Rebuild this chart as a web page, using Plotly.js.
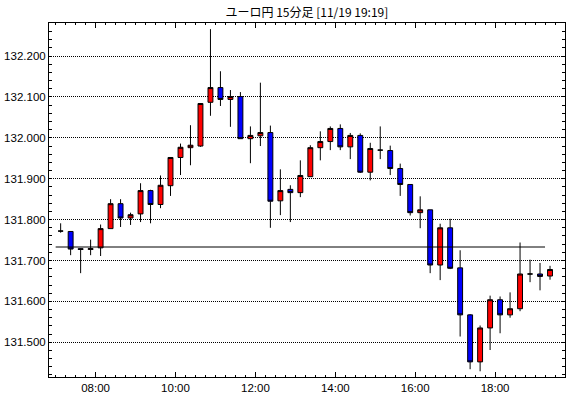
<!DOCTYPE html>
<html>
<head>
<meta charset="utf-8">
<script src="https://cdn.plot.ly/plotly-3.0.1.min.js"></script>
<style>html,body{margin:0;padding:0;background:#fff;}#chart{width:570px;height:398px;}</style>
</head>
<body>
<div id="chart"></div>
<script>
const day = '2024-11-19';
const times = ['07:00','07:15','07:30','07:45','08:00','08:15','08:30','08:45','09:00','09:15',
 '09:30','09:45','10:00','10:15','10:30','10:45','11:00','11:15','11:30','11:45',
 '12:00','12:15','12:30','12:45','13:00','13:15','13:30','13:45','14:00','14:15',
 '14:30','14:45','15:00','15:15','15:30','15:45','16:00','16:15','16:30','16:45',
 '17:00','17:15','17:30','17:45','18:00','18:15','18:30','18:45','19:00','19:15'];
const openP = [131.772,131.771,131.729,131.727,131.731,131.778,131.839,131.804,131.814,131.871,
 131.837,131.883,131.952,131.976,131.980,132.087,132.123,132.094,132.101,131.998,
 132.005,132.013,131.846,131.874,131.866,131.905,131.976,131.991,132.023,131.978,
 132.006,131.916,131.970,131.969,131.925,131.886,131.817,131.824,131.689,131.780,
 131.682,131.567,131.452,131.535,131.604,131.567,131.582,131.667,131.667,131.662];
const highP = [131.791,131.771,131.730,131.751,131.788,131.850,131.850,131.817,131.889,131.873,
 131.908,131.952,131.986,132.031,132.085,132.266,132.163,132.117,132.112,132.028,
 132.135,132.030,131.923,131.884,131.945,131.982,132.016,132.028,132.033,132.012,
 132.011,131.988,132.028,131.981,131.937,131.886,131.857,131.824,131.790,131.802,
 131.725,131.569,131.541,131.614,131.612,131.622,131.744,131.702,131.694,131.687];
const lowP = [131.768,131.713,131.669,131.713,131.711,131.778,131.782,131.787,131.794,131.791,
 131.828,131.858,131.909,131.933,131.978,132.054,132.078,132.027,131.998,131.938,
 131.980,131.780,131.811,131.794,131.855,131.905,131.945,131.970,131.970,131.948,
 131.914,131.896,131.948,131.909,131.858,131.810,131.779,131.669,131.652,131.679,
 131.514,131.434,131.429,131.481,131.522,131.560,131.576,131.647,131.627,131.653];
const closeP = [131.772,131.728,131.727,131.729,131.778,131.839,131.804,131.812,131.871,131.837,
 131.884,131.952,131.977,131.982,132.084,132.123,132.094,132.101,131.998,132.006,
 132.013,131.845,131.871,131.866,131.908,131.976,131.991,132.023,131.978,132.006,
 131.916,131.974,131.970,131.925,131.886,131.817,131.824,131.689,131.780,131.681,
 131.567,131.452,131.535,131.604,131.567,131.582,131.667,131.667,131.661,131.678];
const refLevel = 131.733;
const refStart = '07:00';
const refEnd = '19:15';
const xTickLabels = ['08:00','10:00','12:00','14:00','16:00','18:00'];
const titleText = 'ユーロ円 15分足 [11/19 19:19]';

const xs = times.map(t => day + ' ' + t);

const trace = {
  type: 'candlestick',
  x: xs,
  open: openP, high: highP, low: lowP, close: closeP,
  xperiod: 900000,
  xperiodalignment: 'middle',
  increasing: {line: {color: '#000000', width: 1}, fillcolor: '#FF0000'},
  decreasing: {line: {color: '#000000', width: 1}, fillcolor: '#0000FF'},
  whiskerwidth: 0,
  hoverinfo: 'skip',
  showlegend: false
};

const tickFont = {family: 'Liberation Sans, Arial, sans-serif', size: 11.5, color: '#000'};

const layout = {
  width: 570, height: 398,
  margin: {l: 49, r: 5, t: 23, b: 21},
  paper_bgcolor: '#ffffff', plot_bgcolor: '#ffffff',
  showlegend: false,
  title: {text: titleText, font: {family: 'Noto Sans CJK JP, sans-serif', size: 12, color: '#000'},
          x: 0.5385, xanchor: 'center', xref: 'container', y: 0.968, yanchor: 'middle', yref: 'container'},
  xaxis: {
    type: 'date',
    range: [day + ' 06:50', day + ' 19:45'],
    rangeslider: {visible: false},
    tickvals: xTickLabels.map(t => day + ' ' + t),
    ticktext: xTickLabels,
    ticks: 'inside', ticklen: 5, tickcolor: '#000', tickwidth: 1,
    minor: {dtick: 900000, tick0: day + ' 00:00', ticks: 'inside', ticklen: 2, tickcolor: '#000', tickwidth: 1, showgrid: false},
    showline: true, linecolor: '#000', linewidth: 1, mirror: 'ticks',
    showgrid: false, zeroline: false,
    tickfont: tickFont,
    fixedrange: true
  },
  yaxis: {
    range: [131.415, 132.281],
    dtick: 0.1, tick0: 131.5,
    tickformat: '.3f',
    ticks: 'inside', ticklen: 3, tickcolor: '#000', tickwidth: 1,
    minor: {dtick: 0.02, tick0: 131.5, ticks: 'inside', ticklen: 3, tickcolor: '#000', tickwidth: 1, showgrid: false},
    showline: true, linecolor: '#000', linewidth: 1, mirror: 'ticks',
    showgrid: true, gridcolor: '#000', gridwidth: 1, griddash: '1px,1px',
    zeroline: false,
    tickfont: tickFont,
    ticklabelstandoff: 0,
    fixedrange: true
  },
  shapes: [{
    type: 'line', xref: 'x', yref: 'y',
    x0: day + ' ' + refStart, x1: day + ' ' + refEnd,
    y0: refLevel, y1: refLevel,
    line: {color: '#000', width: 1},
    layer: 'above'
  }]
};

Plotly.newPlot('chart', [trace], layout, {staticPlot: true, displayModeBar: false});
</script>
</body>
</html>
